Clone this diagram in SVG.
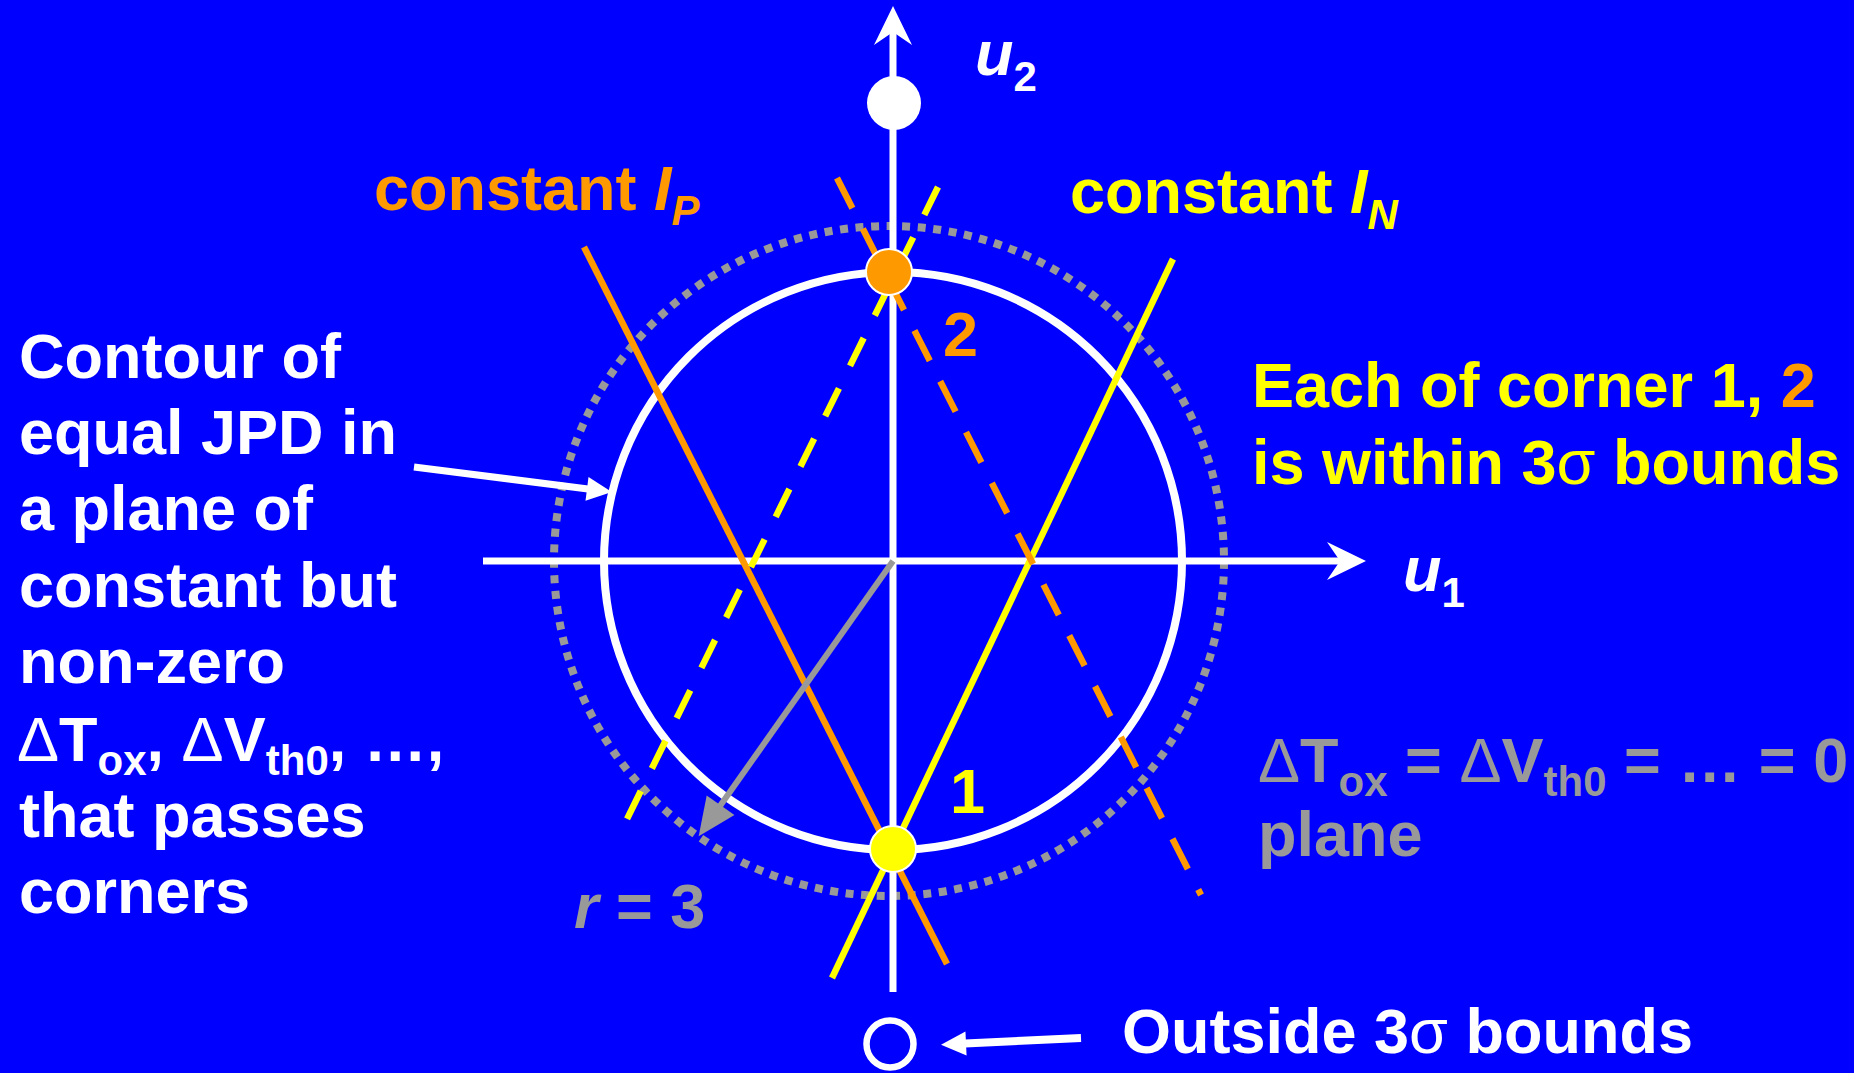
<svg xmlns="http://www.w3.org/2000/svg" width="1854" height="1073" viewBox="0 0 1854 1073">
<style>
text{font-family:"Liberation Sans",Arial,sans-serif;font-weight:bold;font-size:63px}
.w{fill:#FFFFFF}.y{fill:#FFFF00}.o{fill:#FF9900}.g{fill:#999999}
.it{font-style:italic}
.up{font-style:normal}
.thin{font-weight:normal}
.sub{font-size:42px}
.axis{stroke:#FFFFFF;stroke-width:7;fill:none}
.ln{stroke-width:6.5;fill:none}
</style>
<defs>
<marker id="axhead" markerUnits="userSpaceOnUse" markerWidth="40" markerHeight="40" refX="13" refY="19" orient="auto" overflow="visible">
<path d="M0,0 L39,19 L0,38 L13,19 Z" fill="#FFFFFF"/>
</marker>
<marker id="whead" markerUnits="userSpaceOnUse" markerWidth="30" markerHeight="30" refX="1" refY="12" orient="auto" overflow="visible">
<path d="M0,0 L25,12 L0,24 Z" fill="#FFFFFF"/>
</marker>
<marker id="ghead" markerUnits="userSpaceOnUse" markerWidth="40" markerHeight="40" refX="1" refY="17" orient="auto" overflow="visible">
<path d="M0,0 L38,17 L0,34 Z" fill="#999999"/>
</marker>
</defs>
<rect width="1854" height="1073" fill="#0000FF"/>

<g id="bound-circle">
<circle cx="889" cy="561" r="335" fill="none" stroke="#999999" stroke-width="8" stroke-dasharray="8 7.6"/>
</g>
<g id="jpd-contour">
<circle cx="893" cy="561" r="289" fill="none" stroke="#FFFFFF" stroke-width="8"/>
</g>

<g id="connectors">
<line class="axis" x1="483" y1="561" x2="1340" y2="561" marker-end="url(#axhead)"/>
<line class="axis" x1="893" y1="992" x2="893" y2="32" marker-end="url(#axhead)"/>
<line class="ln" stroke="#FF9900" x1="584" y1="247" x2="947" y2="964"/>
<line class="ln" stroke="#FFFF00" x1="1173" y1="259" x2="832" y2="978"/>
<line class="ln" stroke="#FF9900" stroke-dasharray="34 23" x1="837" y1="178" x2="1201" y2="895"/>
<line class="ln" stroke="#FFFF00" stroke-dasharray="31 25.1" x1="938" y1="187" x2="627" y2="819"/>
<line stroke="#999999" stroke-width="6" x1="893" y1="561" x2="720" y2="806" marker-end="url(#ghead)"/>
<line stroke="#FFFFFF" stroke-width="7" x1="414" y1="467" x2="588" y2="489" marker-end="url(#whead)"/>
<line stroke="#FFFFFF" stroke-width="8" x1="1081" y1="1038" x2="965" y2="1043.5" marker-end="url(#whead)"/>
</g>

<g id="u2-point"><circle cx="894" cy="103" r="27" fill="#FFFFFF"/></g>
<g id="corner2"><circle cx="889" cy="272" r="23" fill="#FF9900" stroke="#FFFFFF" stroke-width="2"/></g>
<g id="corner1"><circle cx="893" cy="849" r="23" fill="#FFFF00" stroke="#FFFFFF" stroke-width="2"/></g>
<g id="outside-point"><circle cx="890" cy="1044" r="23.5" fill="none" stroke="#FFFFFF" stroke-width="6.5"/></g>

<g id="label-u2"><text class="w it" x="975" y="75" font-size="58">u<tspan class="sub up" font-size="42" dy="16">2</tspan></text></g>
<g id="label-u1"><text class="w it" x="1403" y="591" font-size="58">u<tspan class="sub up" font-size="42" dy="16">1</tspan></text></g>
<g id="label-IP"><text class="o" x="374" y="210">constant <tspan class="it">I</tspan><tspan class="it sub" dy="15">P</tspan></text></g>
<g id="label-IN"><text class="y" x="1070" y="213">constant <tspan class="it">I</tspan><tspan class="it sub" dy="16">N</tspan></text></g>
<g id="label-2"><text class="o" x="943" y="356">2</text></g>
<g id="label-1"><text class="y" x="950" y="813">1</text></g>
<g id="label-r"><text class="g" x="574" y="928"><tspan class="it">r</tspan> = 3</text></g>

<g id="left-note">
<text class="w" x="19" y="378">Contour of</text>
<text class="w" x="19" y="454">equal JPD in</text>
<text class="w" x="19" y="530">a plane of</text>
<text class="w" x="19" y="607">constant but</text>
<text class="w" x="19" y="683">non-zero</text>
<text class="w" x="17" y="761"><tspan class="thin">Δ</tspan>T<tspan class="sub" dy="14">ox</tspan><tspan dy="-14">, </tspan><tspan class="thin">Δ</tspan>V<tspan class="sub" dy="14">th0</tspan><tspan dy="-14">, …,</tspan></text>
<text class="w" x="19" y="837">that passes</text>
<text class="w" x="19" y="913">corners</text>
</g>

<g id="right-note">
<text class="y" x="1252" y="407">Each of corner 1, <tspan class="o">2</tspan></text>
<text class="y" x="1252" y="484">is within 3<tspan class="thin">σ</tspan> bounds</text>
</g>

<g id="zero-plane">
<text class="g" x="1258" y="782"><tspan class="thin">Δ</tspan>T<tspan class="sub" dy="14">ox</tspan><tspan dy="-14"> = </tspan><tspan class="thin">Δ</tspan>V<tspan class="sub" dy="14">th0</tspan><tspan dy="-14"> = … = 0</tspan></text>
<text class="g" x="1258" y="856">plane</text>
</g>

<g id="outside-note"><text class="w" x="1122" y="1053">Outside 3<tspan class="thin">σ</tspan> bounds</text></g>
</svg>
